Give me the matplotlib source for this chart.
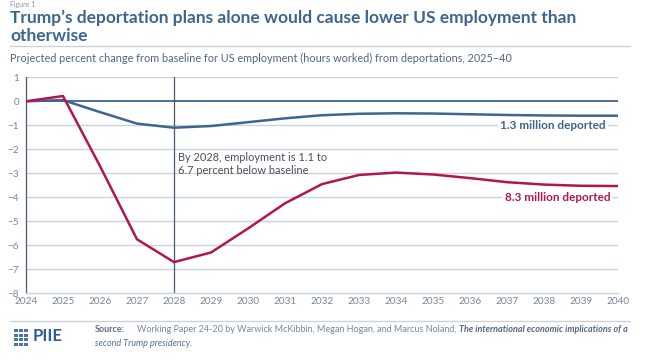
import matplotlib
matplotlib.use('Agg')
import matplotlib.pyplot as plt
from matplotlib.patches import Rectangle

plt.rcParams['font.family'] = ['Lato', 'DejaVu Sans']

# ---- data ----
years = list(range(2024, 2041))
deported_13m = [0, 0.05, -0.45, -0.93, -1.1, -1.03, -0.87, -0.71, -0.58, -0.52,
                -0.5, -0.51, -0.54, -0.57, -0.59, -0.6, -0.6]
deported_83m = [0, 0.22, -2.7, -5.75, -6.7, -6.3, -5.3, -4.25, -3.45, -3.07,
                -2.97, -3.05, -3.2, -3.37, -3.47, -3.52, -3.53]
y_ticks = list(range(1, -9, -1))
series_labels = ['1.3 million deported', '8.3 million deported']

BLUE = '#3d6590'
RED = '#b3164f'
GRID = '#c9d3df'
TICK = '#7a8797'
TITLE = '#3d6590'

W, H = 646, 360
fig = plt.figure(figsize=(W / 100, H / 100), dpi=100)

# plot area in pixels: x 26..618, y 77..293
ax = fig.add_axes([26 / W, 1 - 293.3 / H, (618 - 26) / W, (293.3 - 77.3) / H])
ax.set_xlim(2024, 2040)
ax.set_ylim(-8, 1)

for v in y_ticks:
    if v != 0 and v != -8:
        ax.axhline(v, color=GRID, lw=1.0, zorder=1)
ax.axhline(0, color=BLUE, lw=1.3, zorder=2)
ax.axvline(2028, color='#4a5a6e', lw=0.9, zorder=2)

ax.plot(years, deported_13m, color=BLUE, lw=1.8, zorder=3)
ax.plot(years, deported_83m, color=RED, lw=1.8, zorder=3)

for s in ['top', 'right']:
    ax.spines[s].set_visible(False)
ax.spines['left'].set_color('#4a5a6e')
ax.spines['left'].set_linewidth(0.9)
ax.spines['bottom'].set_color(GRID)
ax.spines['bottom'].set_linewidth(1.0)

ax.set_yticks(y_ticks)
ax.set_yticklabels([str(v).replace('-', '\u2212') for v in y_ticks])
ax.set_xticks(years)
ax.set_xticklabels([str(y) for y in years])
ax.tick_params(axis='both', length=0, labelsize=7.2, colors=TICK)
ax.tick_params(axis='y', pad=5)
ax.tick_params(axis='x', pad=3)

ax.text(2028.12, -2.62, 'By 2028, employment is 1.1 to\n6.7 percent below baseline',
        fontsize=7.9, color='#4a4f57', va='center', ha='left', linespacing=1.25, zorder=4)

ax.text(2038.24, -1.0, series_labels[0], fontsize=8.5, fontweight='bold', color=BLUE,
        ha='center', va='center', zorder=4,
        bbox=dict(facecolor='white', edgecolor='none', pad=1.5))
ax.text(2038.36, -4.0, series_labels[1], fontsize=8.5, fontweight='bold', color=RED,
        ha='center', va='center', zorder=4,
        bbox=dict(facecolor='white', edgecolor='none', pad=1.5))

# ---- header ----
fig.text(10 / W, 1 - 0.5 / H, 'Figure 1', fontsize=5, color='#8a96a5', va='top')
fig.text(10 / W, 1 - 10 / H,
         'Trump\u2019s deportation plans alone would cause lower US employment than\notherwise',
         fontsize=12.55, fontweight='bold', color=TITLE, va='top', linespacing=1.15)
fig.add_artist(plt.Line2D([10 / W, 630 / W], [1 - 46 / H, 1 - 46 / H], color=GRID, lw=1))
fig.text(10 / W, 1 - 58 / H,
         'Projected percent change from baseline for US employment (hours worked) from deportations, 2025\u201340',
         fontsize=7.85, color='#4f6680', va='center')

# ---- footer ----
fig.add_artist(plt.Line2D([10 / W, 630 / W], [1 - 321 / H, 1 - 321 / H], color=GRID, lw=1))

# simple logo mark
for i in range(3):
    for j in range(4):
        fig.add_artist(Rectangle(((14 + i * 5) / W, 1 - (329 + j * 4.5) / H - 3 / H),
                                 3.5 / W, 3 / H, facecolor='#4d74a8', edgecolor='none',
                                 transform=fig.transFigure))
fig.text(33 / W, 1 - 336 / H, 'PIIE', fontsize=12, fontweight='bold', color='#2f5d98', va='center')

renderer = fig.canvas.get_renderer()
src_fs = 6.5
y1 = 1 - 330 / H
t1 = fig.text(95 / W, y1, 'Source:', fontsize=src_fs, fontweight='bold', color='#5a6f8a', va='center')
t2 = fig.text(137 / W, y1,
              'Working Paper 24-20 by Warwick McKibbin, Megan Hogan, and Marcus Noland, ',
              fontsize=src_fs, color='#7a8797', va='center')
x_end = t2.get_window_extent(renderer).x1
fig.text(x_end / W, y1, 'The international economic implications of a',
         fontsize=src_fs, color='#4f6680', va='center', fontweight='bold', style='italic')
fig.text(95 / W, 1 - 343 / H, 'second Trump presidency.', fontsize=src_fs,
         color='#5a6f8a', va='center', style='italic')

fig.savefig('out.png', dpi=100)
